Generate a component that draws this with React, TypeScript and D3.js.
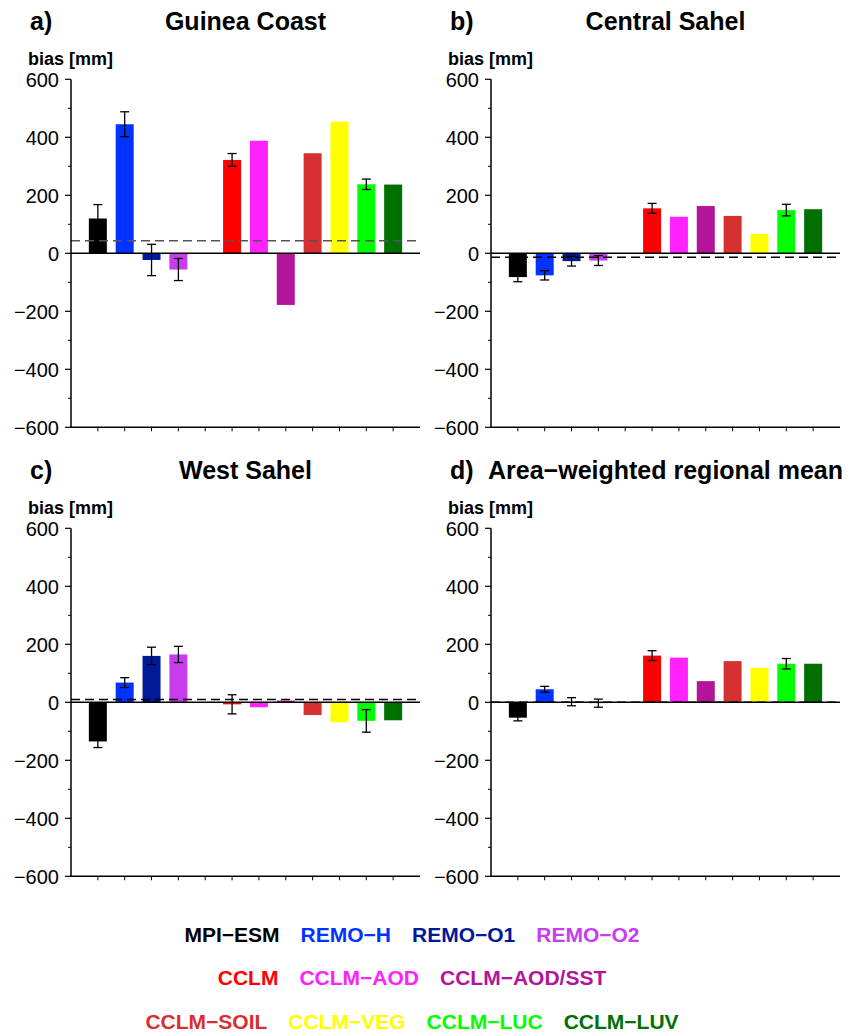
import React, { useEffect, useRef } from "react";
import * as d3 from "d3";

const models = ["MPI−ESM", "REMO−H", "REMO−O1", "REMO−O2", "CCLM", "CCLM−AOD", "CCLM−AOD/SST", "CCLM−SOIL", "CCLM−VEG", "CCLM−LUC", "CCLM−LUV"];
const positions = [1, 2, 3, 4, 6, 7, 8, 9, 10, 11, 12];
const colors = ["#000000", "#0033ff", "#001a99", "#c83cf0", "#ff0000", "#ff22ff", "#b2149a", "#d63030", "#ffff00", "#00ff00", "#007000"];

const panelTitles = ["Guinea Coast", "Central Sahel", "West Sahel", "Area−weighted regional mean"];
const panelLetters = ["a)", "b)", "c)", "d)"];

const guineaCoast = [120, 445, -23, -56, 322, 388, -178, 345, 454, 238, 237];
const guineaCoastErr = [48, 43, 54, 38, 22, 0, 0, 0, 0, 18, 0];
const centralSahel = [-82, -76, -27, -25, 155, 126, 163, 129, 67, 149, 152];
const centralSahelErr = [16, 16, 17, 17, 17, 0, 0, 0, 0, 20, 0];
const westSahel = [-135, 68, 160, 165, -7, -17, 6, -44, -69, -64, -62];
const westSahelErr = [21, 17, 30, 28, 33, 0, 0, 0, 0, 39, 0];
const regionalMean = [-53, 45, 2, -3, 161, 154, 73, 142, 119, 133, 133];
const regionalMeanErr = [11, 10, 14, 14, 17, 0, 0, 0, 0, 18, 0];
const referenceLine = [43, -14, 10, 0];

const yMajorTicks = [-600, -400, -200, 0, 200, 400, 600];
const yMinorTicks = [-500, -300, -100, 100, 300, 500];
const xTicks = [1, 2, 3, 4, 5, 6, 7, 8, 9, 10, 11, 12];

const legendRows = [[0, 1, 2, 3], [4, 5, 6], [7, 8, 9, 10]];

const FONT = "'Liberation Sans', Arial, Helvetica, sans-serif";

export default function App() {
  const ref = useRef<SVGSVGElement>(null);

  useEffect(() => {
    const svg = d3.select(ref.current);
    svg.selectAll("*").remove();

    const values = [guineaCoast, centralSahel, westSahel, regionalMean];
    const errs = [guineaCoastErr, centralSahelErr, westSahelErr, regionalMeanErr];
    const origins = [
      { x: 71, y: 79.3 },
      { x: 491, y: 79.3 },
      { x: 71, y: 528.3 },
      { x: 491, y: 528.3 },
    ];
    const plotW = 349;
    const plotH = 348;

    values.forEach((vals, p) => {
      const o = origins[p];
      const g = svg.append("g");
      const x = d3.scaleLinear().domain([0, 13]).range([o.x, o.x + plotW]);
      const y = d3.scaleLinear().domain([-600, 600]).range([o.y + plotH, o.y]);
      const bw = 18;

      // titles
      g.append("text").attr("x", o.x - 41).attr("y", o.y - 49)
        .attr("font-family", FONT).attr("font-weight", "bold").attr("font-size", 25)
        .text(panelLetters[p]);
      g.append("text").attr("x", (x(0) + x(13)) / 2).attr("y", o.y - 49)
        .attr("text-anchor", "middle")
        .attr("font-family", FONT).attr("font-weight", "bold").attr("font-size", 25)
        .text(panelTitles[p]);
      g.append("text").attr("x", o.x - 43).attr("y", o.y - 14.5)
        .attr("font-family", FONT).attr("font-weight", "bold").attr("font-size", 18)
        .text("bias [mm]");

      // bars
      g.selectAll("rect.bar").data(vals).enter().append("rect")
        .attr("x", (_d, i) => x(positions[i]) - bw / 2)
        .attr("width", bw)
        .attr("y", (d) => Math.min(y(d), y(0)))
        .attr("height", (d) => Math.abs(y(d) - y(0)))
        .attr("fill", (_d, i) => colors[i]);

      // reference dashed line
      g.append("line").attr("x1", x(0)).attr("x2", x(13))
        .attr("y1", y(referenceLine[p])).attr("y2", y(referenceLine[p]))
        .attr("stroke", p === 0 ? "#555" : "#000").attr("stroke-width", 1.5)
        .attr("stroke-dasharray", "9,5");

      // zero line
      g.append("line").attr("x1", x(0)).attr("x2", x(13))
        .attr("y1", y(0)).attr("y2", y(0))
        .attr("stroke", "#000").attr("stroke-width", 1.6);

      // error bars
      const e = errs[p];
      vals.forEach((v, i) => {
        if (!e[i]) return;
        const cx = x(positions[i]);
        const eg = g.append("g").attr("stroke", "#000").attr("stroke-width", 1.3);
        eg.append("line").attr("x1", cx).attr("x2", cx).attr("y1", y(v - e[i])).attr("y2", y(v + e[i]));
        eg.append("line").attr("x1", cx - 4.5).attr("x2", cx + 4.5).attr("y1", y(v - e[i])).attr("y2", y(v - e[i]));
        eg.append("line").attr("x1", cx - 4.5).attr("x2", cx + 4.5).attr("y1", y(v + e[i])).attr("y2", y(v + e[i]));
      });

      // axes
      g.append("line").attr("x1", x(0)).attr("x2", x(0)).attr("y1", y(600)).attr("y2", y(-600))
        .attr("stroke", "#000").attr("stroke-width", 1.5);
      g.append("line").attr("x1", x(0) - 0.75).attr("x2", x(13)).attr("y1", y(-600)).attr("y2", y(-600))
        .attr("stroke", "#000").attr("stroke-width", 1.5);

      yMajorTicks.forEach((t) => {
        g.append("line").attr("x1", x(0) - 6).attr("x2", x(0)).attr("y1", y(t)).attr("y2", y(t))
          .attr("stroke", "#000").attr("stroke-width", 1.2);
        g.append("text").attr("x", x(0) - 12).attr("y", y(t)).attr("dy", "0.36em")
          .attr("text-anchor", "end").attr("font-family", FONT).attr("font-size", 20)
          .text(t < 0 ? "−" + Math.abs(t) : String(t));
      });
      yMinorTicks.forEach((t) => {
        g.append("line").attr("x1", x(0) - 3).attr("x2", x(0)).attr("y1", y(t)).attr("y2", y(t))
          .attr("stroke", "#000").attr("stroke-width", 1);
      });
      xTicks.forEach((t) => {
        g.append("line").attr("x1", x(t)).attr("x2", x(t)).attr("y1", y(-600)).attr("y2", y(-600) + 4)
          .attr("stroke", "#000").attr("stroke-width", 1);
      });
    });

    // legend
    const rowBaselines = [942, 985, 1029];
    const gap = 21;
    const cx = 412;
    legendRows.forEach((row, r) => {
      const lg = svg.append("g");
      const texts = row.map((i) =>
        lg.append("text").attr("y", rowBaselines[r])
          .attr("font-family", FONT).attr("font-weight", "bold").attr("font-size", 21)
          .attr("fill", colors[i]).text(models[i])
      );
      const widths = texts.map((t) => (t.node() as SVGTextElement).getComputedTextLength());
      const total = d3.sum(widths) + gap * (row.length - 1);
      let cur = cx - total / 2;
      texts.forEach((t, k) => {
        t.attr("x", cur);
        cur += widths[k] + gap;
      });
    });
  }, []);

  return (
    <svg
      ref={ref}
      width={853}
      height={1033}
      style={{ position: "absolute", left: 0, top: 0, background: "#fff" }}
    />
  );
}
